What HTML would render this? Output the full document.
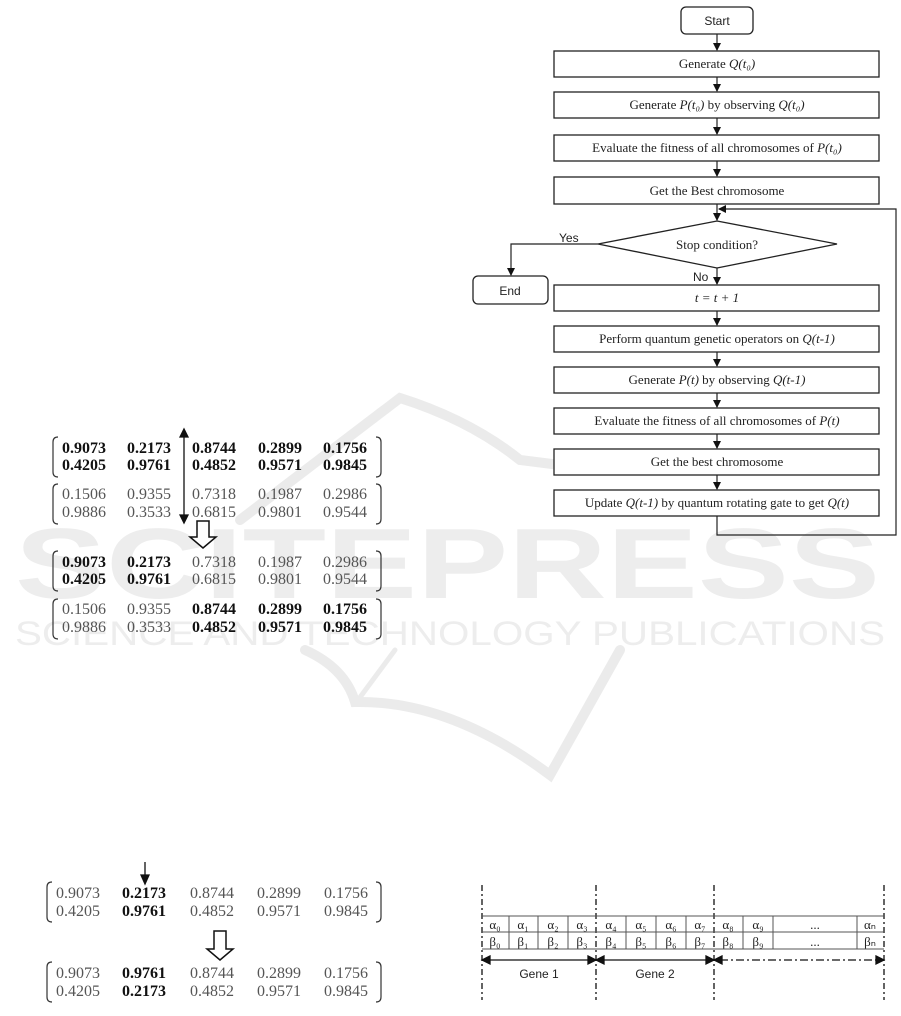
<!DOCTYPE html>
<html><head><meta charset="utf-8"><style>
html,body{margin:0;padding:0;background:#fff;}
svg{display:block;}
.f{font-family:"Liberation Serif",serif;font-size:13px;fill:#222;}
.s{font-family:"Liberation Sans",sans-serif;font-size:12px;fill:#222;}
.n{font-family:"Liberation Serif",serif;font-size:16px;fill:#555;}
.b{font-weight:bold;fill:#111;}
.g{font-family:"Liberation Serif",serif;font-size:13px;fill:#222;}
</style></head><body>
<svg width="901" height="1016" viewBox="0 0 901 1016" xmlns="http://www.w3.org/2000/svg">
<defs>
<marker id="a" markerWidth="8" markerHeight="8" refX="7" refY="4" orient="auto" markerUnits="userSpaceOnUse"><path d="M0,0 L8,4 L0,8 z" fill="#111"/></marker>
</defs>
<!-- watermark -->
<g fill="#ededed" stroke="none">
<text x="15" y="598" font-family="Liberation Sans,sans-serif" font-weight="bold" font-size="100" textLength="865" lengthAdjust="spacingAndGlyphs">SCITEPRESS</text>
<text x="15" y="645" font-family="Liberation Sans,sans-serif" font-size="34" textLength="870" lengthAdjust="spacingAndGlyphs">SCIENCE AND TECHNOLOGY PUBLICATIONS</text>
</g>
<g fill="none" stroke="#ebebeb" stroke-width="10" stroke-linecap="round">
<path d="M240,520 L400,398 Q470,420 520,460 L560,465"/>
<path d="M305,650 Q345,668 355,702 Q450,700 550,775 L620,650"/>
<path d="M358,700 L395,650" stroke-width="5"/>
</g>
<!-- flowchart -->
<g stroke="#222" stroke-width="1.3" fill="#fff">
<rect x="681" y="7" width="72" height="27" rx="5"/>
<rect x="554" y="51" width="325" height="26"/>
<rect x="554" y="92" width="325" height="26"/>
<rect x="554" y="135" width="325" height="26"/>
<rect x="554" y="177" width="325" height="27"/>
<polygon points="717,221 837,244 717,268 598,244"/>
<rect x="473" y="276" width="75" height="28" rx="5"/>
<rect x="554" y="285" width="325" height="26"/>
<rect x="554" y="326" width="325" height="26"/>
<rect x="554" y="367" width="325" height="26"/>
<rect x="554" y="408" width="325" height="26"/>
<rect x="554" y="449" width="325" height="26"/>
<rect x="554" y="490" width="325" height="26"/>
</g>
<g stroke="#222" stroke-width="1.2" fill="none" marker-end="url(#a)">
<line x1="717" y1="34" x2="717" y2="50"/>
<line x1="717" y1="77" x2="717" y2="91"/>
<line x1="717" y1="118" x2="717" y2="134"/>
<line x1="717" y1="161" x2="717" y2="176"/>
<line x1="717" y1="204" x2="717" y2="220"/>
<polyline points="598,244 511,244 511,275"/>
<line x1="717" y1="268" x2="717" y2="284"/>
<line x1="717" y1="311" x2="717" y2="325"/>
<line x1="717" y1="352" x2="717" y2="366"/>
<line x1="717" y1="393" x2="717" y2="407"/>
<line x1="717" y1="434" x2="717" y2="448"/>
<line x1="717" y1="475" x2="717" y2="489"/>
<polyline points="717,516 717,535 896,535 896,209 719,209"/>
</g>
<g text-anchor="middle">
<text class="s" x="717" y="25">Start</text>
<text class="f" x="717" y="68">Generate <tspan font-style="italic">Q(t₀)</tspan></text>
<text class="f" x="717" y="109">Generate <tspan font-style="italic">P(t₀)</tspan> by observing <tspan font-style="italic">Q(t₀)</tspan></text>
<text class="f" x="717" y="152">Evaluate the fitness of all chromosomes of <tspan font-style="italic">P(t₀)</tspan></text>
<text class="f" x="717" y="195">Get the Best chromosome</text>
<text class="f" x="717" y="249">Stop condition?</text>
<text class="s" x="510" y="295">End</text>
<text class="f" x="717" y="302" font-style="italic">t = t + 1</text>
<text class="f" x="717" y="343">Perform quantum genetic operators on <tspan font-style="italic">Q(t-1)</tspan></text>
<text class="f" x="717" y="384">Generate <tspan font-style="italic">P(t)</tspan> by observing <tspan font-style="italic">Q(t-1)</tspan></text>
<text class="f" x="717" y="425">Evaluate the fitness of all chromosomes of <tspan font-style="italic">P(t)</tspan></text>
<text class="f" x="717" y="466">Get the best chromosome</text>
<text class="f" x="717" y="507">Update <tspan font-style="italic">Q(t-1)</tspan> by quantum rotating gate to get <tspan font-style="italic">Q(t)</tspan></text>
</g>
<text class="s" x="559" y="242">Yes</text>
<text class="s" x="693" y="281">No</text>

<!-- matrices brackets -->
<g stroke="#333" stroke-width="1.2" fill="none">
<path d="M58,437 Q53,437 53,442 L53,472 Q53,477 58,477"/><path d="M376,437 Q381,437 381,442 L381,472 Q381,477 376,477"/>
<path d="M58,484 Q53,484 53,489 L53,519 Q53,524 58,524"/><path d="M376,484 Q381,484 381,489 L381,519 Q381,524 376,524"/>
<path d="M58,551 Q53,551 53,556 L53,586 Q53,591 58,591"/><path d="M376,551 Q381,551 381,556 L381,586 Q381,591 376,591"/>
<path d="M58,599 Q53,599 53,604 L53,634 Q53,639 58,639"/><path d="M376,599 Q381,599 381,604 L381,634 Q381,639 376,639"/>
<path d="M52,882 Q47,882 47,887 L47,917 Q47,922 52,922"/><path d="M376,882 Q381,882 381,887 L381,917 Q381,922 376,922"/>
<path d="M52,962 Q47,962 47,967 L47,997 Q47,1002 52,1002"/><path d="M376,962 Q381,962 381,967 L381,997 Q381,1002 376,1002"/>
</g>
<!-- arrows -->
<g stroke="#111" stroke-width="1.3" fill="#111">
<line x1="184" y1="436" x2="184" y2="516"/>
<path d="M180,437 L184,429 L188,437 z"/><path d="M180,515 L184,523 L188,515 z"/>
<line x1="145" y1="862" x2="145" y2="876"/><path d="M141,875 L145,884 L149,875 z"/>
</g>
<g stroke="#111" stroke-width="1.5" fill="#fff">
<path d="M197,521 L209,521 L209,537 L216,537 L203,548 L190,537 L197,537 z"/>
<path d="M214,931 L226,931 L226,949 L233,949 L220,960 L207,949 L214,949 z"/>
</g>
<!-- numbers -->
<g class="n">
<g class="b"><text x="62" y="453">0.9073</text><text x="127" y="453">0.2173</text><text x="192" y="453">0.8744</text><text x="258" y="453">0.2899</text><text x="323" y="453">0.1756</text>
<text x="62" y="470">0.4205</text><text x="127" y="470">0.9761</text><text x="192" y="470">0.4852</text><text x="258" y="470">0.9571</text><text x="323" y="470">0.9845</text></g>
<text x="62" y="499">0.1506</text><text x="127" y="499">0.9355</text><text x="192" y="499">0.7318</text><text x="258" y="499">0.1987</text><text x="323" y="499">0.2986</text>
<text x="62" y="517">0.9886</text><text x="127" y="517">0.3533</text><text x="192" y="517">0.6815</text><text x="258" y="517">0.9801</text><text x="323" y="517">0.9544</text>
<text class="b" x="62" y="567">0.9073</text><text class="b" x="127" y="567">0.2173</text><text x="192" y="567">0.7318</text><text x="258" y="567">0.1987</text><text x="323" y="567">0.2986</text>
<text class="b" x="62" y="584">0.4205</text><text class="b" x="127" y="584">0.9761</text><text x="192" y="584">0.6815</text><text x="258" y="584">0.9801</text><text x="323" y="584">0.9544</text>
<text x="62" y="614">0.1506</text><text x="127" y="614">0.9355</text><text class="b" x="192" y="614">0.8744</text><text class="b" x="258" y="614">0.2899</text><text class="b" x="323" y="614">0.1756</text>
<text x="62" y="632">0.9886</text><text x="127" y="632">0.3533</text><text class="b" x="192" y="632">0.4852</text><text class="b" x="258" y="632">0.9571</text><text class="b" x="323" y="632">0.9845</text>
<text x="56" y="898">0.9073</text><text class="b" x="122" y="898">0.2173</text><text x="190" y="898">0.8744</text><text x="257" y="898">0.2899</text><text x="324" y="898">0.1756</text>
<text x="56" y="916">0.4205</text><text class="b" x="122" y="916">0.9761</text><text x="190" y="916">0.4852</text><text x="257" y="916">0.9571</text><text x="324" y="916">0.9845</text>
<text x="56" y="978">0.9073</text><text class="b" x="122" y="978">0.9761</text><text x="190" y="978">0.8744</text><text x="257" y="978">0.2899</text><text x="324" y="978">0.1756</text>
<text x="56" y="996">0.4205</text><text class="b" x="122" y="996">0.2173</text><text x="190" y="996">0.4852</text><text x="257" y="996">0.9571</text><text x="324" y="996">0.9845</text>
</g>
<!-- gene table -->
<g stroke="#111" stroke-width="1.3" stroke-dasharray="6,3,2,3" fill="none">
<line x1="482" y1="885" x2="482" y2="1000"/><line x1="596" y1="885" x2="596" y2="1000"/>
<line x1="714" y1="885" x2="714" y2="1000"/><line x1="884" y1="885" x2="884" y2="1000"/>
</g>
<g stroke="#555" stroke-width="1" fill="none">
<line x1="482" y1="916" x2="884" y2="916"/><line x1="482" y1="932" x2="884" y2="932"/><line x1="482" y1="949" x2="884" y2="949"/>
<line x1="509" y1="916" x2="509" y2="949"/><line x1="538" y1="916" x2="538" y2="949"/><line x1="568" y1="916" x2="568" y2="949"/>
<line x1="626" y1="916" x2="626" y2="949"/><line x1="656" y1="916" x2="656" y2="949"/><line x1="686" y1="916" x2="686" y2="949"/>
<line x1="743" y1="916" x2="743" y2="949"/><line x1="773" y1="916" x2="773" y2="949"/><line x1="857" y1="916" x2="857" y2="949"/>
</g>
<g stroke="#111" stroke-width="1.3" fill="#111">
<line x1="488" y1="960" x2="590" y2="960"/><path d="M490,956 L482,960 L490,964 z"/><path d="M588,956 L596,960 L588,964 z"/>
<line x1="602" y1="960" x2="708" y2="960"/><path d="M604,956 L596,960 L604,964 z"/><path d="M706,956 L714,960 L706,964 z"/>
<line x1="720" y1="960" x2="878" y2="960" stroke-dasharray="8,3,2,3"/><path d="M722,956 L714,960 L722,964 z"/><path d="M876,956 L884,960 L876,964 z"/>
</g>
<g class="g" text-anchor="middle">
<text x="495" y="929">α₀</text><text x="523" y="929">α₁</text><text x="553" y="929">α₂</text><text x="582" y="929">α₃</text>
<text x="611" y="929">α₄</text><text x="641" y="929">α₅</text><text x="671" y="929">α₆</text><text x="700" y="929">α₇</text>
<text x="728" y="929">α₈</text><text x="758" y="929">α₉</text><text x="815" y="929">...</text><text x="870" y="929">αₙ</text>
<text x="495" y="946">β₀</text><text x="523" y="946">β₁</text><text x="553" y="946">β₂</text><text x="582" y="946">β₃</text>
<text x="611" y="946">β₄</text><text x="641" y="946">β₅</text><text x="671" y="946">β₆</text><text x="700" y="946">β₇</text>
<text x="728" y="946">β₈</text><text x="758" y="946">β₉</text><text x="815" y="946">...</text><text x="870" y="946">βₙ</text>
</g>
<text class="s" x="539" y="978" text-anchor="middle" font-size="13">Gene 1</text>
<text class="s" x="655" y="978" text-anchor="middle" font-size="13">Gene 2</text>
</svg>
</body></html>
